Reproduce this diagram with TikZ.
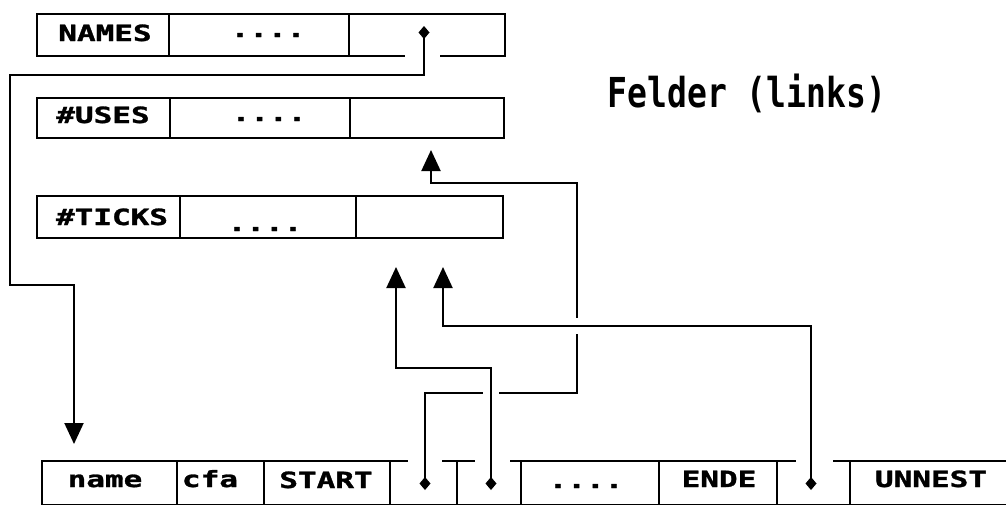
\documentclass[tikz,border=0pt]{standalone}
\usepackage{fontspec}
\newfontfamily\labfont{DejaVu Sans Mono}
\usetikzlibrary{arrows.meta}
\newcommand{\lbl}[1]{\scalebox{1}[0.72]{\labfont\bfseries\fontsize{31}{31}\selectfont\addfontfeature{FakeBold=1.2}#1}}
\newcommand{\ttl}[1]{\scalebox{1}[1.25]{\labfont\bfseries\fontsize{33}{33}\selectfont #1}}
\begin{document}
\begin{tikzpicture}[x=1pt,y=-1pt,
  cell/.style={draw, line width=2pt, inner sep=0pt, anchor=north west},
  txt/.style={inner sep=0pt, anchor=base},
  conn/.style={line width=2pt, {Turned Square[length=13pt,width=11pt]}-{Triangle[length=21pt,width=19pt]}},
  hop/.style={preaction={draw=white, line width=16pt}},
  gap/.style={fill=white}]
\useasboundingbox (0,0) rectangle (1006,504);

% NAMES row
\node[cell, minimum width=132pt, minimum height=42pt] (n1) at (36,13) {};
\node[cell, minimum width=180pt, minimum height=42pt] (n2) at (168,13) {};
\node[cell, minimum width=156pt, minimum height=42pt] (n3) at (348,13) {};
% #USES row
\node[cell, minimum width=133pt, minimum height=40pt] (u1) at (36,97) {};
\node[cell, minimum width=180pt, minimum height=40pt] (u2) at (169,97) {};
\node[cell, minimum width=154pt, minimum height=40pt] (u3) at (349,97) {};
% #TICKS row
\node[cell, minimum width=143pt, minimum height=42pt] (t1) at (36,195) {};
\node[cell, minimum width=176pt, minimum height=42pt] (t2) at (179,195) {};
\node[cell, minimum width=147pt, minimum height=42pt] (t3) at (355,195) {};
% bottom row
\node[cell, minimum width=135pt, minimum height=44pt] (b1) at (41,460) {};
\node[cell, minimum width=87pt,  minimum height=44pt] (b2) at (176,460) {};
\node[cell, minimum width=126pt, minimum height=44pt] (b3) at (263,460) {};
\node[cell, minimum width=67pt,  minimum height=44pt] (b4) at (389,460) {};
\node[cell, minimum width=64pt,  minimum height=44pt] (b5) at (456,460) {};
\node[cell, minimum width=138pt, minimum height=44pt] (b6) at (520,460) {};
\node[cell, minimum width=118pt, minimum height=44pt] (b7) at (658,460) {};
\node[cell, minimum width=73pt,  minimum height=44pt] (b8) at (776,460) {};
\node[cell, minimum width=190pt, minimum height=44pt] (b9) at (849,460) {};

% gaps in box edges where pointers pass
\fill[gap] (405,50) rectangle (440,60);
\fill[gap] (408,455) rectangle (442,465);
\fill[gap] (475,455) rectangle (510,465);
\fill[gap] (796,455) rectangle (833,465);

% texts
\node[txt] (tn1) at (105,41) {\lbl{NAMES}};
\node[txt] (tn2) at (268,37) {\lbl{....}};
\node[txt] (tu1) at (103,123) {\lbl{\#USES}};
\node[txt] (tu2) at (269,121) {\lbl{....}};
\node[txt] (tt1) at (112,225) {\lbl{\#TICKS}};
\node[txt] (tt2) at (265,231) {\lbl{....}};
\node[txt] (tb1) at (105,487) {\lbl{name}};
\node[txt] (tb2) at (210,487) {\lbl{cfa}};
\node[txt] (tb3) at (326,488) {\lbl{START}};
\node[txt] (tb6) at (586,488) {\lbl{....}};
\node[txt] (tb7) at (719,487) {\lbl{ENDE}};
\node[txt] (tb9) at (931,487) {\lbl{UNNEST}};
\node[txt] (title) at (747,107) {\ttl{Felder (links)}};

% pointer ends
\coordinate (s4) at (424,26);
\coordinate (e4) at (74,444);
\coordinate (s1) at (425,490);
\coordinate (e1) at (431,150);
\coordinate (s2) at (491,490);
\coordinate (e2) at (396,267);
\coordinate (s3) at (811,490);
\coordinate (e3) at (443,267);

% connectors
\draw[conn] (s4) |- (10,75) -- (10,285) -| (e4);
\draw[conn] (s1) |- (577,393) -- (577,183) -| (e1);
\draw[conn, hop] (s3) -- (811,326) -| (e3);
\draw[conn, hop] (s2) -- (491,368) -| (e2);
\end{tikzpicture}
\end{document}
